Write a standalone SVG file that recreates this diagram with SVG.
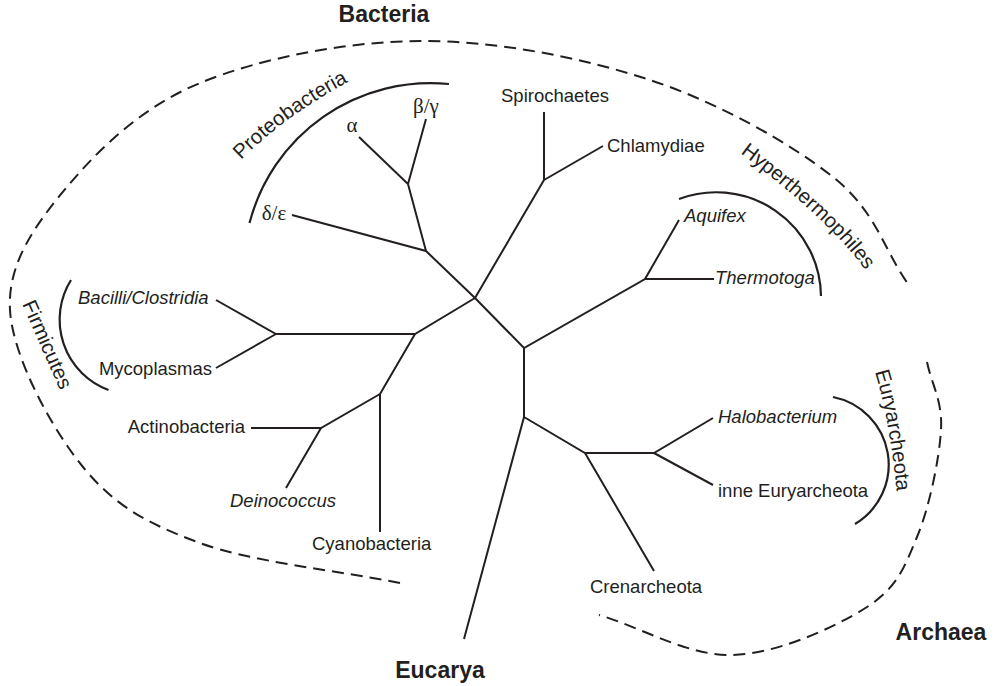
<svg xmlns="http://www.w3.org/2000/svg" width="998" height="686" viewBox="0 0 998 686">
<style>
.t{font-family:"Liberation Sans",Arial,sans-serif;font-size:18.5px;fill:#231f20}
.i{font-style:italic}
.g{font-family:"Liberation Serif","Times New Roman",serif;font-size:21px;fill:#231f20}
.c{font-family:"Liberation Sans",Arial,sans-serif;font-size:20.5px;fill:#231f20}
.b{font-family:"Liberation Sans",Arial,sans-serif;font-size:23px;font-weight:bold;fill:#231f20}
.br{fill:none;stroke:#231f20;stroke-width:2;stroke-linecap:butt;stroke-linejoin:miter}
.arc{fill:none;stroke:#231f20;stroke-width:2.2}
.dash{fill:none;stroke:#231f20;stroke-width:2;stroke-dasharray:12 7}
</style>
<defs>
<path id="pProteo" d="M 241 160 Q 289 112 356 78"/>
<path id="pHyper" d="M 740 153 Q 834 223 871 278"/>
<path id="pFirm" d="M 22 304 L 66 404"/>
<path id="pEury" d="M 875 372 Q 891 425 898 505"/>
</defs>
<g id="domains">
<path class="dash" d="M 400 583 C 333.3 569.7, 252.8 562.3, 200 543 C 147.2 523.7, 114.7 505.8, 83 467 C 51.3 428.2, 12.7 356.7, 10 310 C 7.3 263.3, 35.3 224.8, 67 187 C 98.7 149.2, 141.2 107.3, 200 83 C 258.8 58.7, 345 41.5, 420 41 C 495 40.5, 581.2 57.3, 650 80 C 718.8 102.7, 790 143, 833 177 C 876 211, 883 248.3, 908 284"/>
<path class="dash" d="M 927 362 C 931.7 384.7, 942.7 400.8, 941 430 C 939.3 459.2, 929.3 507.5, 917 537 C 904.7 566.5, 897.7 587.3, 867 607 C 836.3 626.7, 777.7 653.7, 733 655 C 688.3 656.3, 643.7 628.3, 599 615"/>
<text class="b" x="384" y="22" text-anchor="middle">Bacteria</text>
<text class="b" x="440" y="678" text-anchor="middle">Eucarya</text>
<text class="b" x="941" y="640" text-anchor="middle">Archaea</text>
</g>
<g id="connectors">
<path class="br" d="M 475 298 L 426 251 L 292 215 M 426 251 L 408 184 L 359 137 M 408 184 L 426 119"/>
<path class="br" d="M 475 298 L 544 180 L 544 112 M 544 180 L 603 146"/>
<path class="br" d="M 475 298 L 524 348 L 645 279 L 679 220 M 645 279 L 714 279"/>
<path class="br" d="M 524 348 L 524 417 L 464 639 M 524 417 L 585 453 L 654 453 L 713 418 M 654 453 L 713 485 M 585 453 L 654 571"/>
<path class="br" d="M 475 298 L 415 334 L 276 334 L 216 300 M 276 334 L 216 368"/>
<path class="br" d="M 415 334 L 380 394 L 380 532 M 380 394 L 321 428 L 251 428 M 321 428 L 286 488"/>
</g>
<g id="proteobacteria">
<path class="arc" d="M 249.5 223 A 187 187 0 0 1 449 84"/>
<text class="c"><textPath href="#pProteo">Proteobacteria</textPath></text>
<text class="g" x="352" y="132" text-anchor="middle">α</text>
<text class="g" x="426" y="113" text-anchor="middle">β/γ</text>
<text class="g" x="274" y="220" text-anchor="middle">δ/ε</text>
</g>
<g id="spirochaetes"><text class="t" x="555" y="102" text-anchor="middle">Spirochaetes</text></g>
<g id="chlamydiae"><text class="t" x="607" y="152">Chlamydiae</text></g>
<g id="hyperthermophiles">
<path class="arc" d="M 679 199 A 105 105 0 0 1 821 296"/>
<text class="c"><textPath href="#pHyper">Hyperthermophiles</textPath></text>
<text class="t i" x="684" y="222">Aquifex</text>
<text class="t i" x="715" y="284">Thermotoga</text>
</g>
<g id="euryarcheota">
<path class="arc" d="M 833 397 A 69 69 0 0 1 855 524"/>
<text class="c"><textPath href="#pEury">Euryarcheota</textPath></text>
<text class="t i" x="718" y="423">Halobacterium</text>
<text class="t" x="718" y="497">inne Euryarcheota</text>
</g>
<g id="crenarcheota"><text class="t" x="590" y="593">Crenarcheota</text></g>
<g id="firmicutes">
<path class="arc" d="M 71 280 A 75 75 0 0 0 108.5 390"/>
<text class="c"><textPath href="#pFirm">Firmicutes</textPath></text>
<text class="t i" x="78" y="304">Bacilli/Clostridia</text>
<text class="t" x="212" y="375" text-anchor="end">Mycoplasmas</text>
</g>
<g id="actinobacteria"><text class="t" x="245" y="433" text-anchor="end">Actinobacteria</text></g>
<g id="deinococcus"><text class="t i" x="230" y="507">Deinococcus</text></g>
<g id="cyanobacteria"><text class="t" x="312" y="550">Cyanobacteria</text></g>
</svg>
